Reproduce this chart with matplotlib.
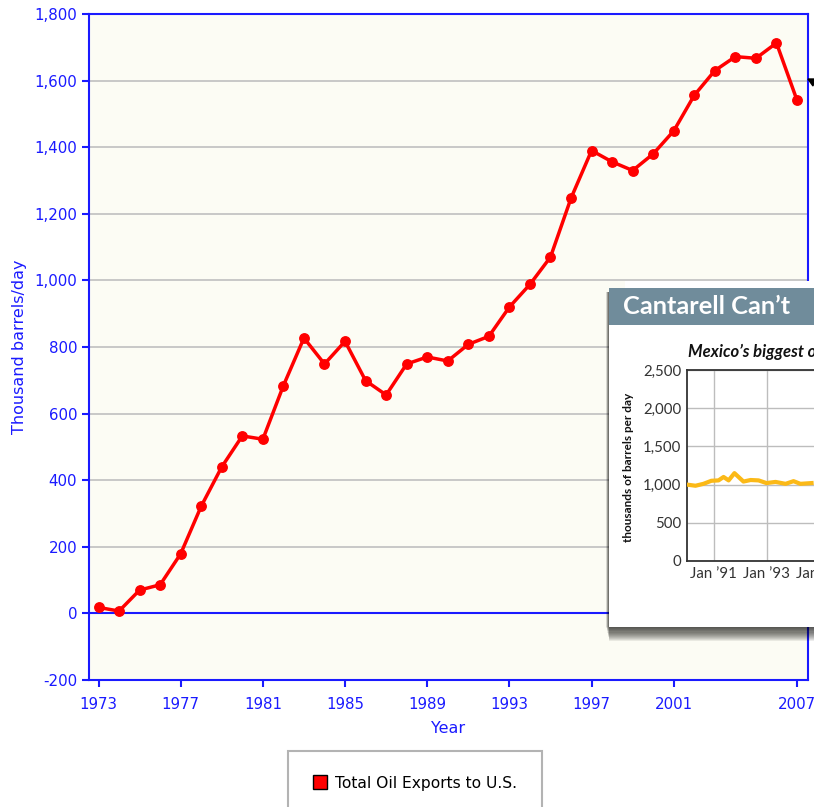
import matplotlib
matplotlib.use('Agg')
import matplotlib.pyplot as plt
from matplotlib.patches import Rectangle, Polygon
from matplotlib.lines import Line2D
from matplotlib.ticker import FuncFormatter

# ---------------- data ----------------
years = list(range(1973, 2008))
exports = [18, 7, 70, 86, 179, 322, 440, 533, 523, 684,
           827, 749, 817, 699, 656,
           749, 770, 758, 808, 832, 920, 988, 1070, 1247, 1390,
           1356, 1330, 1380, 1449, 1556, 1630, 1672, 1667, 1713, 1541]
series_label = "Total Oil Exports to U.S."
x_ticks = [1973, 1977, 1981, 1985, 1989, 1993, 1997, 2001, 2007]
y_ticks = list(range(-200, 1801, 200))

# inset ("Cantarell Can't") data, decimal years vs thousand barrels/day
cantarell_year = [1990.0, 1990.32, 1990.62, 1990.92, 1991.19, 1991.38, 1991.57,
                  1991.79, 1992.13, 1992.40, 1992.70, 1993.0, 1993.34, 1993.72,
                  1994.02, 1994.28, 1994.70]
cantarell_kbd = [1000, 985, 1010, 1050, 1055, 1100, 1055, 1150, 1040, 1060,
                 1055, 1020, 1035, 1010, 1045, 1010, 1020]
inset_x_ticks = [1991, 1993, 1995, 1997, 1999, 2001]
inset_x_labels = ["Jan \u201991", "Jan \u201993", "Jan \u201995", "Jan \u201997",
                  "Jan \u201999", "Jan \u201901"]
inset_y_ticks = [0, 500, 1000, 1500, 2000, 2500]

# ---------------- figure ----------------
W, H = 814, 807
fig = plt.figure(figsize=(W / 100, H / 100), dpi=100)
fig.patch.set_facecolor('white')

BLUE = '#1a1aff'

def rect(x0, y0, x1, y1):
    return [x0 / W, 1 - y1 / H, (x1 - x0) / W, (y1 - y0) / H]

ax = fig.add_axes(rect(89, 14, 808, 680))
ax.set_facecolor('#fcfcf4')
ax.plot(years, exports, color='#ff0000', lw=2.5, marker='o', markersize=6.8,
        zorder=3, solid_joinstyle='round')
ax.set_xlim(1972.537, 2007.535)
ax.set_ylim(-200, 1800)
ax.set_xticks(x_ticks)
ax.set_yticks(y_ticks)
ax.yaxis.set_major_formatter(FuncFormatter(lambda v, p: f"{int(v):,}"))
for v in y_ticks[1:-1]:
    if v == 0:
        ax.axhline(0, color=BLUE, lw=1.5, zorder=2)
    else:
        ax.axhline(v, color='#c4c4c4', lw=1.3, zorder=1)
for s in ax.spines.values():
    s.set_color(BLUE)
    s.set_linewidth(1.5)
ax.tick_params(axis='both', colors=BLUE, length=5, width=1.5, labelsize=10.8,
               labelcolor=BLUE)
ax.tick_params(axis='y', pad=3.5)
ax.tick_params(axis='x', pad=7.5)
ax.set_xlabel("Year", color=BLUE, fontsize=11.5, labelpad=6)
ax.set_ylabel("Thousand barrels/day", color=BLUE, fontsize=11.5, labelpad=5)

# legend
handle = Line2D([], [], linestyle='none', marker='s', markersize=10,
                markerfacecolor='#ff0000', markeredgecolor='black', markeredgewidth=1)
leg = fig.legend([handle], [series_label], loc='upper left',
                 bbox_to_anchor=(288 / W, 1 - 751 / H), borderaxespad=0,
                 fontsize=11.2, frameon=True, fancybox=False, borderpad=1.6,
                 handlelength=0.9, handletextpad=0.5)
leg.get_frame().set_edgecolor('#a0a0a0')
leg.get_frame().set_linewidth(1.5)

# ---------------- overlay (pixel coordinates) ----------------
ov = fig.add_axes([0, 0, 1, 1], zorder=5)
ov.set_xlim(0, W)
ov.set_ylim(H, 0)
ov.axis('off')
ov.patch.set_alpha(0)

# black pointer at right edge
ov.add_patch(Polygon([(808, 79), (814.5, 79), (813, 86)], closed=True,
                     color='black', zorder=2))

# drop shadow of pasted panel
for k in range(14):
    ov.add_patch(Rectangle((606 + k * 0.25, 292), 400, (627 - 292) + k * 1.1,
                           color='black', alpha=0.075, lw=0, zorder=1))
# white strip above panel
ov.add_patch(Rectangle((625, 281), 300, 8, color='white', lw=0, zorder=2))
# panel
ov.add_patch(Rectangle((609, 288), 400, 627 - 288, color='white', lw=0, zorder=3))
ov.add_patch(Rectangle((609, 288), 400, 325 - 288, color='#708c9b', lw=0, zorder=4))
ov.text(623, 307, "Cantarell Can\u2019t", color='white', fontsize=18.3,
        fontfamily='Lato', fontweight='bold', ha='left', va='center', zorder=5)
ov.text(688, 352, "Mexico\u2019s biggest oil field", color='#111111', fontsize=12,
        fontfamily='Lato', fontweight='bold', fontstyle='italic',
        ha='left', va='center', zorder=5)
ov.text(629, 467, "thousands of barrels per day", color='#111111', fontsize=8.5,
        fontfamily='Lato', fontweight='bold', rotation=90,
        ha='center', va='center', zorder=5)

# inner chart of the panel
ia = fig.add_axes(rect(687, 370, 1000, 561), zorder=6)
ia.set_facecolor('white')
ia.plot(cantarell_year, cantarell_kbd, color='#fbb917', lw=3, zorder=3)
ia.set_xlim(1990.0, 1990.0 + (1000 - 687) / 26.5)
ia.set_ylim(0, 2500)
ia.set_xticks(inset_x_ticks)
ia.set_xticklabels(inset_x_labels)
ia.set_yticks(inset_y_ticks)
ia.yaxis.set_major_formatter(FuncFormatter(lambda v, p: f"{int(v):,}"))
ia.grid(True, color='#bdbdbd', lw=1)
ia.set_axisbelow(True)
for side in ['left', 'bottom', 'top']:
    ia.spines[side].set_color('#333333')
    ia.spines[side].set_linewidth(1.3)
ia.spines['right'].set_visible(False)
ia.tick_params(length=0, labelsize=10.8, labelcolor='#333333', pad=4)
for lab in ia.get_xticklabels() + ia.get_yticklabels():
    lab.set_fontfamily('Lato')

fig.savefig('out.png', dpi=100, facecolor='white')
